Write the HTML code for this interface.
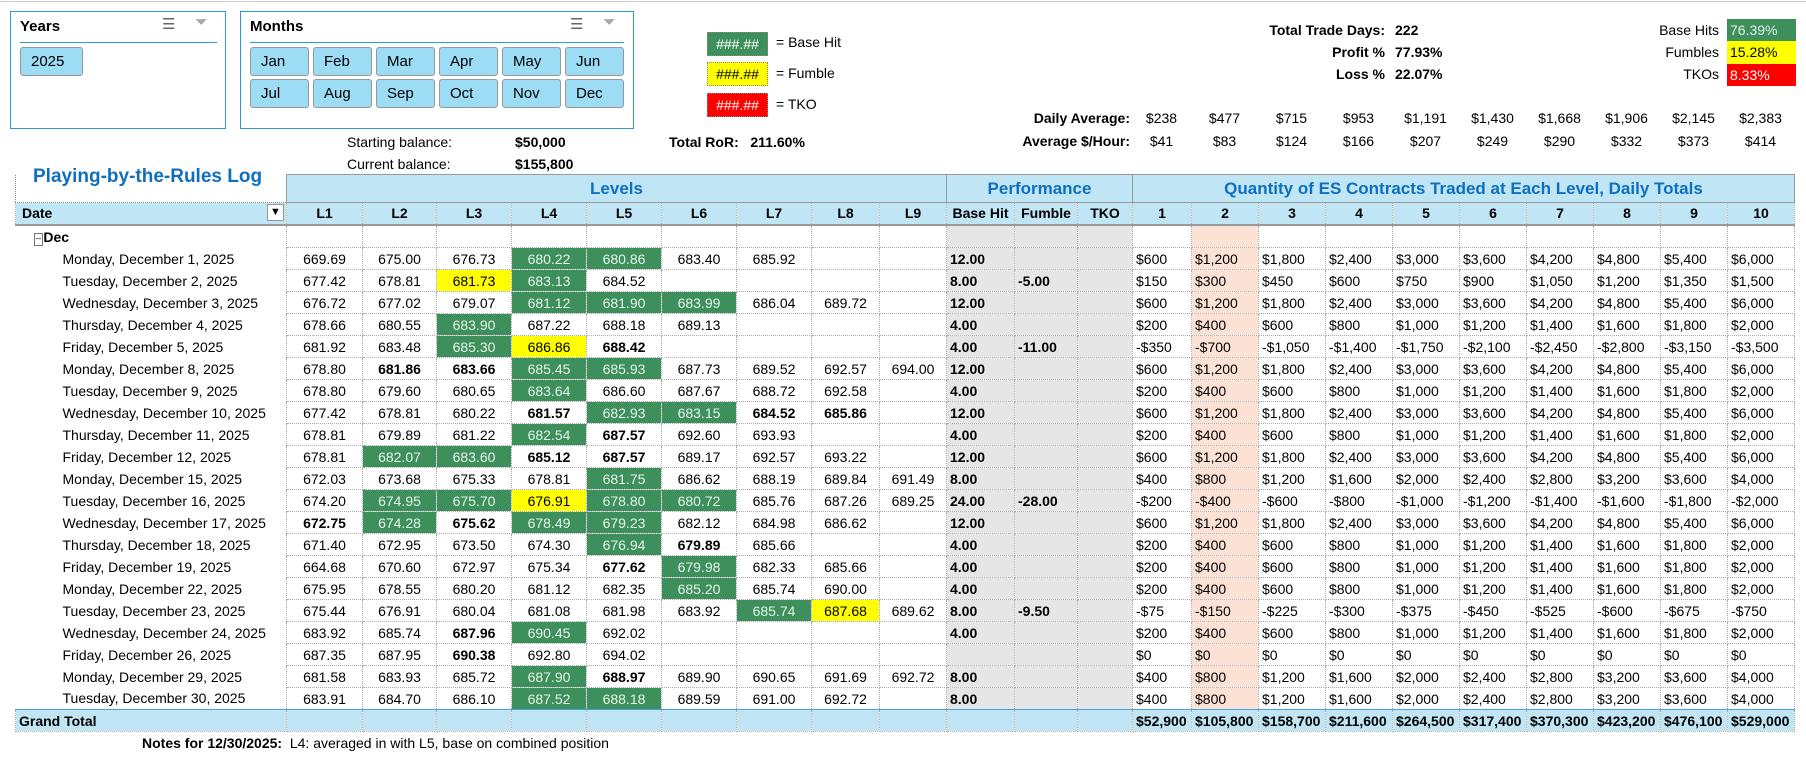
<!DOCTYPE html>
<html><head><meta charset="utf-8">
<style>
*{margin:0;padding:0;box-sizing:border-box}
body{width:1806px;height:761px;background:#fff;font-family:"Liberation Sans",sans-serif;font-size:14px;color:#000;position:relative;overflow:hidden}
.a{position:absolute;white-space:nowrap}
.box{position:absolute;border:1px solid #2b9ad6;background:#fff}
.btn{position:absolute;background:#9ddcf5;border:1px solid #999;border-radius:3px;height:29px;line-height:27px;padding-left:10px;font-size:15px}
.sl{position:absolute;height:1px;background:#2b9ad6}
.lg{position:absolute;width:61px;height:24px;border:1px dotted #888;text-align:center;line-height:22px;font-size:14px}
table{position:absolute;left:15px;top:174px;border-collapse:collapse;table-layout:fixed}
td{height:22px;padding:0;white-space:nowrap;overflow:hidden;border:1px dotted #aaa;text-align:center;font-size:14px;line-height:20px}
tr.h1 td{height:28px;background:#c0e6f5;border:1px solid #999;color:#0f6fbf;font-weight:bold;font-size:17px}
tr.h2 td{background:#c0e6f5;font-weight:bold;border-bottom:2px solid #999}
td.d{text-align:left;padding-left:47px;border:none;border-right:1px dotted #aaa}
td.g{background:#3d8f5c;color:#e6f3ea}
td.y{background:#ffff00}
td.b{font-weight:bold}
td.p{background:#e6e6e6;text-align:left;padding-left:3px;font-weight:bold}
td.q{text-align:left;padding-left:3px}
td.q2{background:#fbe2d5}
tr.gt td{background:#c0e6f5;font-weight:bold;text-align:left;padding-left:3px;border-top:1px solid #4aa0d8}
</style></head><body>
<div class="a" style="left:0;top:1px;width:1806px;height:1px;background:#ccc"></div>

<div class="box" style="left:10px;top:11px;width:216px;height:118px"></div>
<div class="a" style="left:20px;top:18px;font-weight:bold;font-size:15px">Years</div>
<div class="a" style="left:162px;top:15px;font-size:15px;color:#666">☰</div>
<div class="a" style="left:195px;top:14px;font-size:16px;color:#aaa">⏷</div>
<div class="sl" style="left:20px;top:42px;width:197px"></div>
<div class="btn" style="left:20px;top:47px;width:63px">2025</div>

<div class="box" style="left:240px;top:11px;width:394px;height:118px"></div>
<div class="a" style="left:250px;top:18px;font-weight:bold;font-size:15px">Months</div>
<div class="a" style="left:570px;top:15px;font-size:15px;color:#666">☰</div>
<div class="a" style="left:603px;top:14px;font-size:16px;color:#aaa">⏷</div>
<div class="sl" style="left:250px;top:42px;width:374px"></div>
<div class="btn" style="left:250px;top:47px;width:59px">Jan</div>
<div class="btn" style="left:313px;top:47px;width:59px">Feb</div>
<div class="btn" style="left:376px;top:47px;width:59px">Mar</div>
<div class="btn" style="left:439px;top:47px;width:59px">Apr</div>
<div class="btn" style="left:502px;top:47px;width:59px">May</div>
<div class="btn" style="left:565px;top:47px;width:59px">Jun</div>
<div class="btn" style="left:250px;top:79px;width:59px">Jul</div>
<div class="btn" style="left:313px;top:79px;width:59px">Aug</div>
<div class="btn" style="left:376px;top:79px;width:59px">Sep</div>
<div class="btn" style="left:439px;top:79px;width:59px">Oct</div>
<div class="btn" style="left:502px;top:79px;width:59px">Nov</div>
<div class="btn" style="left:565px;top:79px;width:59px">Dec</div>

<div class="lg" style="left:707px;top:32px;background:#3d8f5c;color:#fff">###.##</div>
<div class="a" style="left:776px;top:34px">= Base Hit</div>
<div class="lg" style="left:707px;top:62px;background:#ffff00">###.##</div>
<div class="a" style="left:776px;top:65px">= Fumble</div>
<div class="lg" style="left:707px;top:93px;background:#ff0000;color:#fff">###.##</div>
<div class="a" style="left:776px;top:96px">= TKO</div>

<div class="a" style="left:347px;top:134px">Starting balance:</div>
<div class="a" style="left:515px;top:134px;font-weight:bold">$50,000</div>
<div class="a" style="left:347px;top:156px">Current balance:</div>
<div class="a" style="left:515px;top:156px;font-weight:bold">$155,800</div>
<div class="a" style="left:669px;top:134px;font-weight:bold">Total RoR:&nbsp;&nbsp; 211.60%</div>

<div class="a" style="right:421px;top:22px;font-weight:bold;text-align:right">Total Trade Days:</div>
<div class="a" style="left:1395px;top:22px;font-weight:bold">222</div>
<div class="a" style="right:421px;top:44px;font-weight:bold">Profit %</div>
<div class="a" style="left:1395px;top:44px;font-weight:bold">77.93%</div>
<div class="a" style="right:421px;top:66px;font-weight:bold">Loss %</div>
<div class="a" style="left:1395px;top:66px;font-weight:bold">22.07%</div>

<div class="a" style="right:87px;top:22px">Base Hits</div>
<div class="a" style="left:1727px;top:19px;width:69px;height:22px;background:#3d8f5c;color:#e6f3ea;padding-left:3px;line-height:22px">76.39%</div>
<div class="a" style="right:87px;top:44px">Fumbles</div>
<div class="a" style="left:1727px;top:41px;width:69px;height:23px;background:#ffff00;padding-left:3px;line-height:23px">15.28%</div>
<div class="a" style="right:87px;top:66px">TKOs</div>
<div class="a" style="left:1727px;top:64px;width:69px;height:22px;background:#ff0000;color:#fff;padding-left:3px;line-height:22px">8.33%</div>

<div class="a" style="right:676px;top:110px;font-weight:bold">Daily Average:</div>
<div class="a" style="right:676px;top:133px;font-weight:bold">Average $/Hour:</div>
<div class="a" style="left:1132px;top:110px;width:665px;display:flex"><span style="width:59px;text-align:center">$238</span><span style="width:67px;text-align:center">$477</span><span style="width:67px;text-align:center">$715</span><span style="width:67px;text-align:center">$953</span><span style="width:67px;text-align:center">$1,191</span><span style="width:67px;text-align:center">$1,430</span><span style="width:67px;text-align:center">$1,668</span><span style="width:67px;text-align:center">$1,906</span><span style="width:67px;text-align:center">$2,145</span><span style="width:67px;text-align:center">$2,383</span></div>
<div class="a" style="left:1132px;top:133px;width:665px;display:flex"><span style="width:59px;text-align:center">$41</span><span style="width:67px;text-align:center">$83</span><span style="width:67px;text-align:center">$124</span><span style="width:67px;text-align:center">$166</span><span style="width:67px;text-align:center">$207</span><span style="width:67px;text-align:center">$249</span><span style="width:67px;text-align:center">$290</span><span style="width:67px;text-align:center">$332</span><span style="width:67px;text-align:center">$373</span><span style="width:67px;text-align:center">$414</span></div>

<table>
<colgroup><col style="width:271px"><col style="width:76px"><col style="width:74px"><col style="width:75px"><col style="width:75px"><col style="width:75px"><col style="width:75px"><col style="width:75px"><col style="width:68px"><col style="width:67px"><col style="width:68px"><col style="width:63px"><col style="width:55px"><col style="width:59px"><col style="width:67px"><col style="width:67px"><col style="width:67px"><col style="width:67px"><col style="width:67px"><col style="width:67px"><col style="width:67px"><col style="width:67px"><col style="width:67px"></colgroup>
<tr class="h1"><td style="background:transparent;border:none;border-bottom:1px dotted #888"></td><td colspan="9">Levels</td><td colspan="3">Performance</td><td colspan="10">Quantity of ES Contracts Traded at Each Level, Daily Totals</td></tr>
<tr class="h2"><td style="text-align:left;padding-left:6px">Date<span style="float:right;margin-right:2px;width:17px;height:17px;border:1px solid #999;background:#fff;font-size:11px;line-height:15px;text-align:center;margin-top:1px">▼</span></td><td>L1</td><td>L2</td><td>L3</td><td>L4</td><td>L5</td><td>L6</td><td>L7</td><td>L8</td><td>L9</td><td>Base Hit</td><td>Fumble</td><td>TKO</td><td>1</td><td class="q2">2</td><td>3</td><td>4</td><td>5</td><td>6</td><td>7</td><td>8</td><td>9</td><td>10</td></tr>
<tr style="height:23px"><td class="d" style="padding-left:18px;font-weight:bold"><span style="font-size:10px;border:1px solid #777;color:#777;padding:0 1px;line-height:10px">−</span>Dec</td><td></td><td></td><td></td><td></td><td></td><td></td><td></td><td></td><td></td><td class="p"></td><td class="p"></td><td class="p"></td><td></td><td class="q2"></td><td></td><td></td><td></td><td></td><td></td><td></td><td></td><td></td></tr>

<tr><td class="d">Monday, December 1, 2025</td><td>669.69</td><td>675.00</td><td>676.73</td><td class="g">680.22</td><td class="g">680.86</td><td>683.40</td><td>685.92</td><td></td><td></td><td class="p">12.00</td><td class="p"></td><td class="p"></td><td class="q">$600</td><td class="q q2">$1,200</td><td class="q">$1,800</td><td class="q">$2,400</td><td class="q">$3,000</td><td class="q">$3,600</td><td class="q">$4,200</td><td class="q">$4,800</td><td class="q">$5,400</td><td class="q">$6,000</td></tr>
<tr><td class="d">Tuesday, December 2, 2025</td><td>677.42</td><td>678.81</td><td class="y">681.73</td><td class="g">683.13</td><td>684.52</td><td></td><td></td><td></td><td></td><td class="p">8.00</td><td class="p">-5.00</td><td class="p"></td><td class="q">$150</td><td class="q q2">$300</td><td class="q">$450</td><td class="q">$600</td><td class="q">$750</td><td class="q">$900</td><td class="q">$1,050</td><td class="q">$1,200</td><td class="q">$1,350</td><td class="q">$1,500</td></tr>
<tr><td class="d">Wednesday, December 3, 2025</td><td>676.72</td><td>677.02</td><td>679.07</td><td class="g">681.12</td><td class="g">681.90</td><td class="g">683.99</td><td>686.04</td><td>689.72</td><td></td><td class="p">12.00</td><td class="p"></td><td class="p"></td><td class="q">$600</td><td class="q q2">$1,200</td><td class="q">$1,800</td><td class="q">$2,400</td><td class="q">$3,000</td><td class="q">$3,600</td><td class="q">$4,200</td><td class="q">$4,800</td><td class="q">$5,400</td><td class="q">$6,000</td></tr>
<tr><td class="d">Thursday, December 4, 2025</td><td>678.66</td><td>680.55</td><td class="g">683.90</td><td>687.22</td><td>688.18</td><td>689.13</td><td></td><td></td><td></td><td class="p">4.00</td><td class="p"></td><td class="p"></td><td class="q">$200</td><td class="q q2">$400</td><td class="q">$600</td><td class="q">$800</td><td class="q">$1,000</td><td class="q">$1,200</td><td class="q">$1,400</td><td class="q">$1,600</td><td class="q">$1,800</td><td class="q">$2,000</td></tr>
<tr><td class="d">Friday, December 5, 2025</td><td>681.92</td><td>683.48</td><td class="g">685.30</td><td class="y">686.86</td><td class="b">688.42</td><td></td><td></td><td></td><td></td><td class="p">4.00</td><td class="p">-11.00</td><td class="p"></td><td class="q">-$350</td><td class="q q2">-$700</td><td class="q">-$1,050</td><td class="q">-$1,400</td><td class="q">-$1,750</td><td class="q">-$2,100</td><td class="q">-$2,450</td><td class="q">-$2,800</td><td class="q">-$3,150</td><td class="q">-$3,500</td></tr>
<tr><td class="d">Monday, December 8, 2025</td><td>678.80</td><td class="b">681.86</td><td class="b">683.66</td><td class="g">685.45</td><td class="g">685.93</td><td>687.73</td><td>689.52</td><td>692.57</td><td>694.00</td><td class="p">12.00</td><td class="p"></td><td class="p"></td><td class="q">$600</td><td class="q q2">$1,200</td><td class="q">$1,800</td><td class="q">$2,400</td><td class="q">$3,000</td><td class="q">$3,600</td><td class="q">$4,200</td><td class="q">$4,800</td><td class="q">$5,400</td><td class="q">$6,000</td></tr>
<tr><td class="d">Tuesday, December 9, 2025</td><td>678.80</td><td>679.60</td><td>680.65</td><td class="g">683.64</td><td>686.60</td><td>687.67</td><td>688.72</td><td>692.58</td><td></td><td class="p">4.00</td><td class="p"></td><td class="p"></td><td class="q">$200</td><td class="q q2">$400</td><td class="q">$600</td><td class="q">$800</td><td class="q">$1,000</td><td class="q">$1,200</td><td class="q">$1,400</td><td class="q">$1,600</td><td class="q">$1,800</td><td class="q">$2,000</td></tr>
<tr><td class="d">Wednesday, December 10, 2025</td><td>677.42</td><td>678.81</td><td>680.22</td><td class="b">681.57</td><td class="g">682.93</td><td class="g">683.15</td><td class="b">684.52</td><td class="b">685.86</td><td></td><td class="p">12.00</td><td class="p"></td><td class="p"></td><td class="q">$600</td><td class="q q2">$1,200</td><td class="q">$1,800</td><td class="q">$2,400</td><td class="q">$3,000</td><td class="q">$3,600</td><td class="q">$4,200</td><td class="q">$4,800</td><td class="q">$5,400</td><td class="q">$6,000</td></tr>
<tr><td class="d">Thursday, December 11, 2025</td><td>678.81</td><td>679.89</td><td>681.22</td><td class="g">682.54</td><td class="b">687.57</td><td>692.60</td><td>693.93</td><td></td><td></td><td class="p">4.00</td><td class="p"></td><td class="p"></td><td class="q">$200</td><td class="q q2">$400</td><td class="q">$600</td><td class="q">$800</td><td class="q">$1,000</td><td class="q">$1,200</td><td class="q">$1,400</td><td class="q">$1,600</td><td class="q">$1,800</td><td class="q">$2,000</td></tr>
<tr><td class="d">Friday, December 12, 2025</td><td>678.81</td><td class="g">682.07</td><td class="g">683.60</td><td class="b">685.12</td><td class="b">687.57</td><td>689.17</td><td>692.57</td><td>693.22</td><td></td><td class="p">12.00</td><td class="p"></td><td class="p"></td><td class="q">$600</td><td class="q q2">$1,200</td><td class="q">$1,800</td><td class="q">$2,400</td><td class="q">$3,000</td><td class="q">$3,600</td><td class="q">$4,200</td><td class="q">$4,800</td><td class="q">$5,400</td><td class="q">$6,000</td></tr>
<tr><td class="d">Monday, December 15, 2025</td><td>672.03</td><td>673.68</td><td>675.33</td><td>678.81</td><td class="g">681.75</td><td>686.62</td><td>688.19</td><td>689.84</td><td>691.49</td><td class="p">8.00</td><td class="p"></td><td class="p"></td><td class="q">$400</td><td class="q q2">$800</td><td class="q">$1,200</td><td class="q">$1,600</td><td class="q">$2,000</td><td class="q">$2,400</td><td class="q">$2,800</td><td class="q">$3,200</td><td class="q">$3,600</td><td class="q">$4,000</td></tr>
<tr><td class="d">Tuesday, December 16, 2025</td><td>674.20</td><td class="g">674.95</td><td class="g">675.70</td><td class="y">676.91</td><td class="g">678.80</td><td class="g">680.72</td><td>685.76</td><td>687.26</td><td>689.25</td><td class="p">24.00</td><td class="p">-28.00</td><td class="p"></td><td class="q">-$200</td><td class="q q2">-$400</td><td class="q">-$600</td><td class="q">-$800</td><td class="q">-$1,000</td><td class="q">-$1,200</td><td class="q">-$1,400</td><td class="q">-$1,600</td><td class="q">-$1,800</td><td class="q">-$2,000</td></tr>
<tr><td class="d">Wednesday, December 17, 2025</td><td class="b">672.75</td><td class="g">674.28</td><td class="b">675.62</td><td class="g">678.49</td><td class="g">679.23</td><td>682.12</td><td>684.98</td><td>686.62</td><td></td><td class="p">12.00</td><td class="p"></td><td class="p"></td><td class="q">$600</td><td class="q q2">$1,200</td><td class="q">$1,800</td><td class="q">$2,400</td><td class="q">$3,000</td><td class="q">$3,600</td><td class="q">$4,200</td><td class="q">$4,800</td><td class="q">$5,400</td><td class="q">$6,000</td></tr>
<tr><td class="d">Thursday, December 18, 2025</td><td>671.40</td><td>672.95</td><td>673.50</td><td>674.30</td><td class="g">676.94</td><td class="b">679.89</td><td>685.66</td><td></td><td></td><td class="p">4.00</td><td class="p"></td><td class="p"></td><td class="q">$200</td><td class="q q2">$400</td><td class="q">$600</td><td class="q">$800</td><td class="q">$1,000</td><td class="q">$1,200</td><td class="q">$1,400</td><td class="q">$1,600</td><td class="q">$1,800</td><td class="q">$2,000</td></tr>
<tr><td class="d">Friday, December 19, 2025</td><td>664.68</td><td>670.60</td><td>672.97</td><td>675.34</td><td class="b">677.62</td><td class="g">679.98</td><td>682.33</td><td>685.66</td><td></td><td class="p">4.00</td><td class="p"></td><td class="p"></td><td class="q">$200</td><td class="q q2">$400</td><td class="q">$600</td><td class="q">$800</td><td class="q">$1,000</td><td class="q">$1,200</td><td class="q">$1,400</td><td class="q">$1,600</td><td class="q">$1,800</td><td class="q">$2,000</td></tr>
<tr><td class="d">Monday, December 22, 2025</td><td>675.95</td><td>678.55</td><td>680.20</td><td>681.12</td><td>682.35</td><td class="g">685.20</td><td>685.74</td><td>690.00</td><td></td><td class="p">4.00</td><td class="p"></td><td class="p"></td><td class="q">$200</td><td class="q q2">$400</td><td class="q">$600</td><td class="q">$800</td><td class="q">$1,000</td><td class="q">$1,200</td><td class="q">$1,400</td><td class="q">$1,600</td><td class="q">$1,800</td><td class="q">$2,000</td></tr>
<tr><td class="d">Tuesday, December 23, 2025</td><td>675.44</td><td>676.91</td><td>680.04</td><td>681.08</td><td>681.98</td><td>683.92</td><td class="g">685.74</td><td class="y">687.68</td><td>689.62</td><td class="p">8.00</td><td class="p">-9.50</td><td class="p"></td><td class="q">-$75</td><td class="q q2">-$150</td><td class="q">-$225</td><td class="q">-$300</td><td class="q">-$375</td><td class="q">-$450</td><td class="q">-$525</td><td class="q">-$600</td><td class="q">-$675</td><td class="q">-$750</td></tr>
<tr><td class="d">Wednesday, December 24, 2025</td><td>683.92</td><td>685.74</td><td class="b">687.96</td><td class="g">690.45</td><td>692.02</td><td></td><td></td><td></td><td></td><td class="p">4.00</td><td class="p"></td><td class="p"></td><td class="q">$200</td><td class="q q2">$400</td><td class="q">$600</td><td class="q">$800</td><td class="q">$1,000</td><td class="q">$1,200</td><td class="q">$1,400</td><td class="q">$1,600</td><td class="q">$1,800</td><td class="q">$2,000</td></tr>
<tr><td class="d">Friday, December 26, 2025</td><td>687.35</td><td>687.95</td><td class="b">690.38</td><td>692.80</td><td>694.02</td><td></td><td></td><td></td><td></td><td class="p"></td><td class="p"></td><td class="p"></td><td class="q">$0</td><td class="q q2">$0</td><td class="q">$0</td><td class="q">$0</td><td class="q">$0</td><td class="q">$0</td><td class="q">$0</td><td class="q">$0</td><td class="q">$0</td><td class="q">$0</td></tr>
<tr><td class="d">Monday, December 29, 2025</td><td>681.58</td><td>683.93</td><td>685.72</td><td class="g">687.90</td><td class="b">688.97</td><td>689.90</td><td>690.65</td><td>691.69</td><td>692.72</td><td class="p">8.00</td><td class="p"></td><td class="p"></td><td class="q">$400</td><td class="q q2">$800</td><td class="q">$1,200</td><td class="q">$1,600</td><td class="q">$2,000</td><td class="q">$2,400</td><td class="q">$2,800</td><td class="q">$3,200</td><td class="q">$3,600</td><td class="q">$4,000</td></tr>
<tr><td class="d">Tuesday, December 30, 2025</td><td>683.91</td><td>684.70</td><td>686.10</td><td class="g">687.52</td><td class="g">688.18</td><td>689.59</td><td>691.00</td><td>692.72</td><td></td><td class="p">8.00</td><td class="p"></td><td class="p"></td><td class="q">$400</td><td class="q q2">$800</td><td class="q">$1,200</td><td class="q">$1,600</td><td class="q">$2,000</td><td class="q">$2,400</td><td class="q">$2,800</td><td class="q">$3,200</td><td class="q">$3,600</td><td class="q">$4,000</td></tr>
<tr class="gt"><td>Grand Total</td><td></td><td></td><td></td><td></td><td></td><td></td><td></td><td></td><td></td><td></td><td></td><td></td><td>$52,900</td><td>$105,800</td><td>$158,700</td><td>$211,600</td><td>$264,500</td><td>$317,400</td><td>$370,300</td><td>$423,200</td><td>$476,100</td><td>$529,000</td></tr>
</table>

<div class="a" style="left:15px;top:175px;width:1px;height:27px;border-left:1px dotted #888;z-index:2"></div>
<div class="a" style="left:33px;top:166px;font-weight:bold;font-size:19px;color:#0f6fbf;z-index:3">Playing-by-the-Rules Log</div>

<div class="a" style="left:142px;top:735px"><b>Notes for 12/30/2025:</b>&nbsp; L4: averaged in with L5, base on combined position</div>
</body></html>
